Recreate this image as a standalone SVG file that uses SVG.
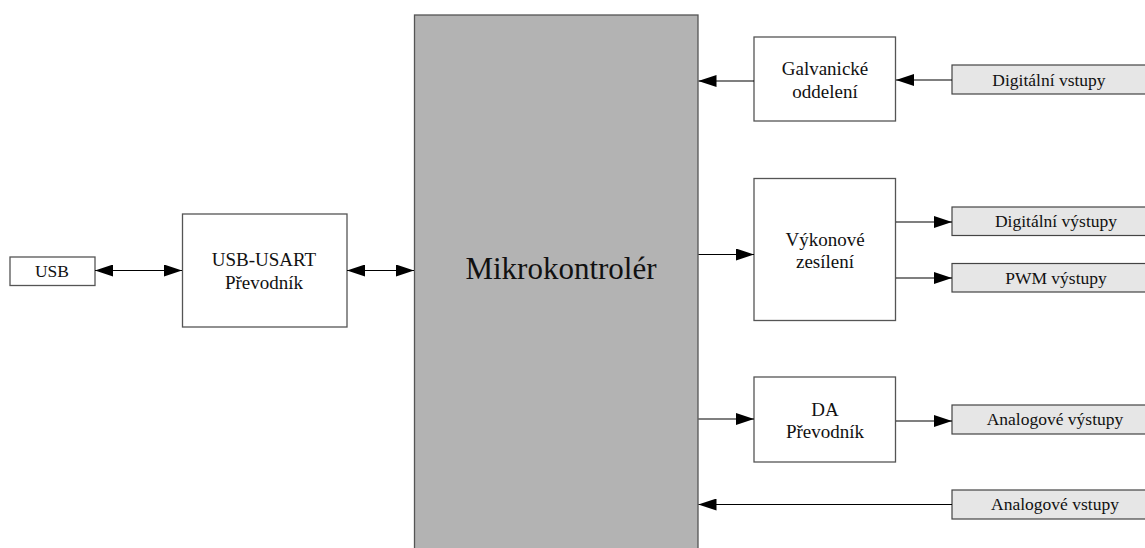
<svg xmlns="http://www.w3.org/2000/svg" width="1145" height="548" viewBox="0 0 1145 548">
<style>
.box{fill:#fff;stroke:#555;stroke-width:1.3}
.io{fill:#e6e6e6;stroke:#444;stroke-width:1.2}
.mcu{fill:#b3b3b3;stroke:#555;stroke-width:1.3}
text{font-family:"Liberation Serif","DejaVu Serif",serif;fill:#111;text-anchor:middle}
.t{font-size:19px}
.s{font-size:17.5px}
.big{font-size:31px}
.c{stroke:#000;stroke-width:1.1;fill:none}
</style>
<defs>
<marker id="ah" viewBox="0 0 18 12" refX="18" refY="6" markerWidth="18" markerHeight="12" markerUnits="userSpaceOnUse" orient="auto-start-reverse">
<path d="M0,0 L18,6 L0,12 Z" fill="#000"/>
</marker>
</defs>
<g id="mcu"><rect class="mcu" x="414.5" y="15" width="283.5" height="545"/><text class="big" x="561" y="279">Mikrokontrolér</text></g>
<g id="usb"><rect class="box" x="10" y="257" width="85" height="28.5"/><text class="s" x="52" y="277">USB</text></g>
<g id="usart"><rect class="box" x="182.5" y="214" width="164.5" height="113"/><text class="t" x="264" y="266">USB-USART</text><text class="t" x="264" y="289">Převodník</text></g>
<g id="galv"><rect class="box" x="754" y="37" width="141.5" height="84"/><text class="t" x="825" y="75">Galvanické</text><text class="t" x="825" y="98">oddelení</text></g>
<g id="vyk"><rect class="box" x="754" y="178.5" width="141.5" height="142"/><text class="t" x="825" y="246">Výkonové</text><text class="t" x="825" y="268">zesílení</text></g>
<g id="da"><rect class="box" x="754" y="377" width="141.5" height="85"/><text class="t" x="825" y="416">DA</text><text class="t" x="825" y="438">Převodník</text></g>
<g id="dvst"><rect class="io" x="952" y="65" width="200" height="29"/><text class="s" x="1049" y="86">Digitální vstupy</text></g>
<g id="dvyst"><rect class="io" x="952" y="207" width="200" height="28.5"/><text class="s" x="1056" y="227">Digitální výstupy</text></g>
<g id="pwm"><rect class="io" x="952" y="263.5" width="200" height="28.5"/><text class="s" x="1056" y="284">PWM výstupy</text></g>
<g id="avyst"><rect class="io" x="952" y="405" width="200" height="29"/><text class="s" x="1055" y="425">Analogové výstupy</text></g>
<g id="avst"><rect class="io" x="952" y="490" width="200" height="29"/><text class="s" x="1055" y="510">Analogové vstupy</text></g>
<g id="connectors">
<line class="c" x1="95" y1="270.5" x2="182" y2="270.5" marker-start="url(#ah)" marker-end="url(#ah)"/>
<line class="c" x1="347" y1="270.5" x2="414" y2="270.5" marker-start="url(#ah)" marker-end="url(#ah)"/>
<line class="c" x1="754" y1="81" x2="698.5" y2="81" marker-end="url(#ah)"/>
<line class="c" x1="952" y1="80" x2="896" y2="80" marker-end="url(#ah)"/>
<line class="c" x1="698.5" y1="254.5" x2="754" y2="254.5" marker-end="url(#ah)"/>
<line class="c" x1="896" y1="222" x2="952" y2="222" marker-end="url(#ah)"/>
<line class="c" x1="896" y1="278" x2="952" y2="278" marker-end="url(#ah)"/>
<line class="c" x1="698.5" y1="419" x2="754" y2="419" marker-end="url(#ah)"/>
<line class="c" x1="896" y1="421" x2="952" y2="421" marker-end="url(#ah)"/>
<line class="c" x1="952" y1="504.5" x2="698.5" y2="504.5" marker-end="url(#ah)"/>
</g>
</svg>
